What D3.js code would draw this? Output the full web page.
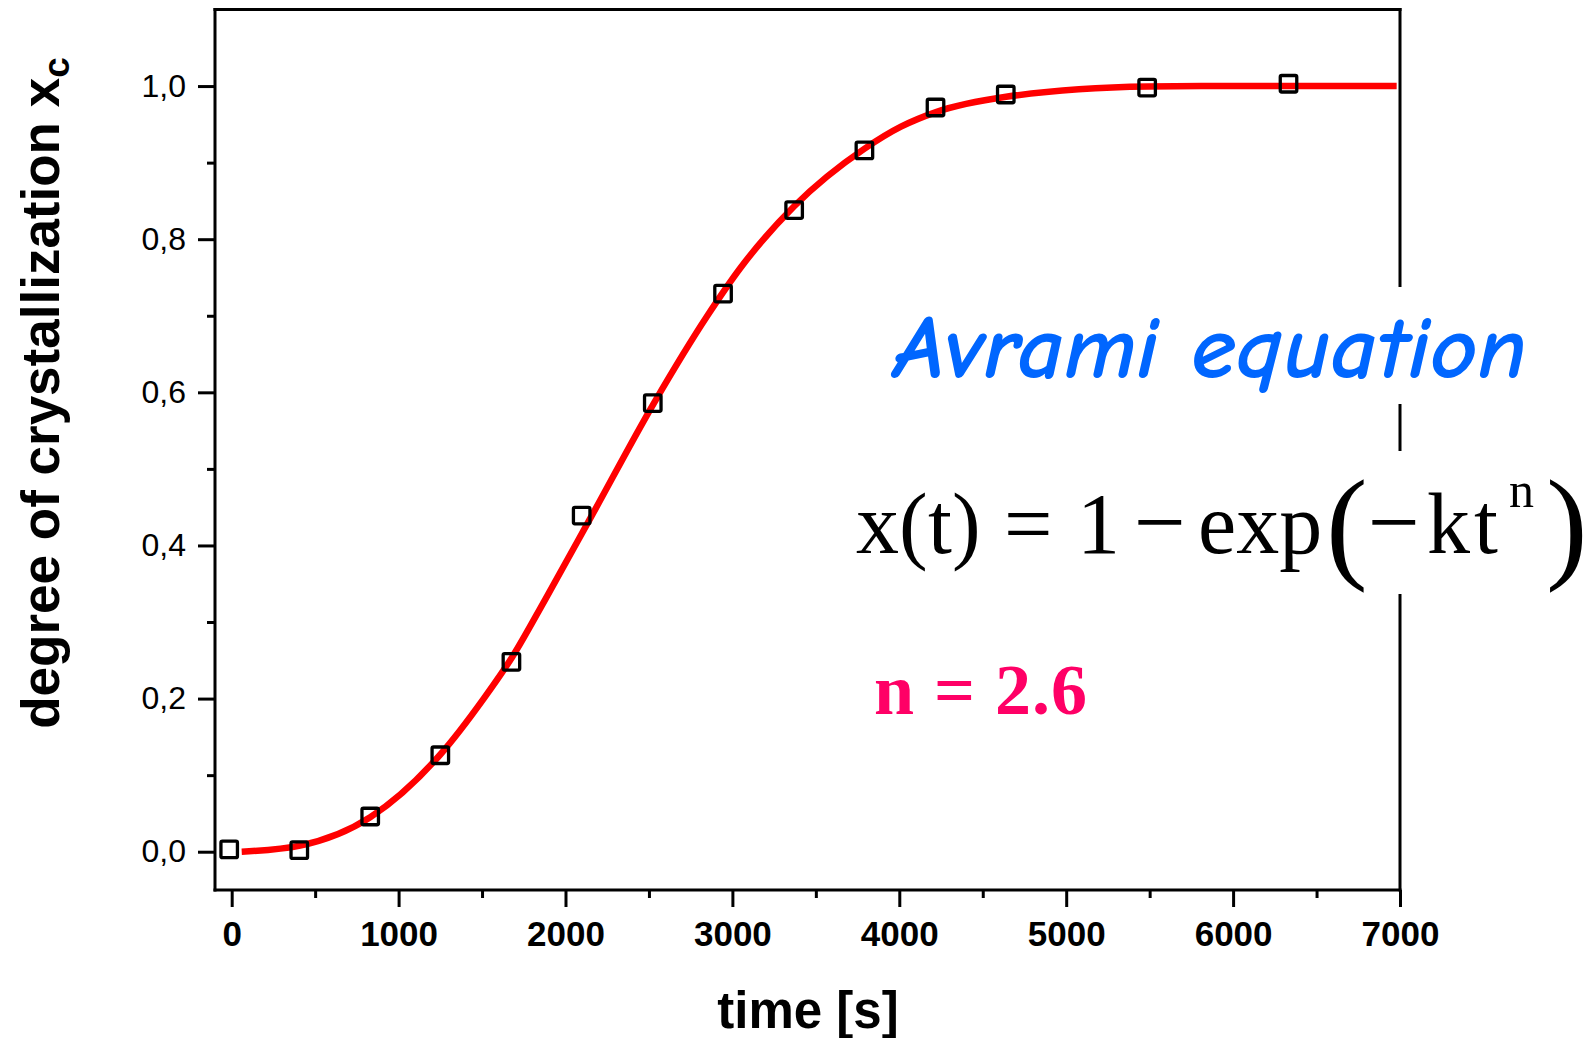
<!DOCTYPE html>
<html>
<head>
<meta charset="utf-8">
<script src="https://cdn.jsdelivr.net/npm/d3@7"></script>
<style>
  html, body { margin: 0; padding: 0; background: #fff; }
  svg { display: block; }
</style>
</head>
<body>
<svg id="chart" width="1593" height="1038"></svg>
<script>
// Measured crystallization data (time in s, degree of crystallization)
const measTime = [-15, 405, 830, 1250, 1676, 2097, 2523, 2944, 3370, 3791, 4217, 4638, 5485, 6332];
const measXc   = [0.003, 0.002, 0.046, 0.126, 0.248, 0.439, 0.586, 0.729, 0.838, 0.916, 0.972, 0.989, 0.998, 1.003];

// Avrami fit curve, sampled along its length
const fitTime = [60, 410, 830, 1250, 1510, 1680, 1880, 2150, 2530, 2850, 3050, 3370, 3790, 4010, 4220, 4640, 5490, 5810, 6980];
const fitXc   = [0.000, 0.008, 0.045, 0.127, 0.200, 0.254, 0.330, 0.436, 0.586, 0.700, 0.763, 0.843, 0.918, 0.947, 0.966, 0.986, 0.9995, 1.000, 1.000];

// Axis ticks
const xMajorTicks = [0, 1000, 2000, 3000, 4000, 5000, 6000, 7000];
const xTickLabels = ["0", "1000", "2000", "3000", "4000", "5000", "6000", "7000"];
const xMinorTicks = [500, 1500, 2500, 3500, 4500, 5500, 6500];
const yMajorTicks = [0, 0.2, 0.4, 0.6, 0.8, 1.0];
const yTickLabels = ["0,0", "0,2", "0,4", "0,6", "0,8", "1,0"];
const yMinorTicks = [0.1, 0.3, 0.5, 0.7, 0.9];

const svg = d3.select("#chart");
const plot = { left: 215, right: 1400, top: 9.5, bottom: 890 };

const x = d3.scaleLinear().domain([-100, 7000]).range([plot.left, plot.right]);
const y = d3.scaleLinear().domain([-0.05, 1.1]).range([plot.bottom, plot.top]);

const axisStroke = 3;

// bottom axis: major + minor ticks
const xAxisMajor = d3.axisBottom(x).tickValues(xMajorTicks)
  .tickFormat((d, i) => xTickLabels[i]).tickSize(17).tickSizeOuter(0).tickPadding(14);
const xAxisMinor = d3.axisBottom(x).tickValues(xMinorTicks)
  .tickFormat("").tickSize(8).tickSizeOuter(0);

const gx = svg.append("g").attr("transform", `translate(0,${plot.bottom})`).call(xAxisMajor);
svg.append("g").attr("transform", `translate(0,${plot.bottom})`).call(xAxisMinor)
  .select(".domain").remove();
gx.select(".domain").remove();
gx.selectAll("text")
  .attr("font-family", "'Liberation Sans', Arial, sans-serif")
  .attr("font-weight", "bold").attr("font-size", 35).attr("fill", "#000");

// left axis
const yAxisMajor = d3.axisLeft(y).tickValues(yMajorTicks)
  .tickFormat((d, i) => yTickLabels[i]).tickSize(17).tickSizeOuter(0).tickPadding(12);
const yAxisMinor = d3.axisLeft(y).tickValues(yMinorTicks)
  .tickFormat("").tickSize(8).tickSizeOuter(0);
const gy = svg.append("g").attr("transform", `translate(${plot.left},0)`).call(yAxisMajor);
svg.append("g").attr("transform", `translate(${plot.left},0)`).call(yAxisMinor)
  .select(".domain").remove();
gy.select(".domain").remove();
gy.selectAll("text")
  .attr("font-family", "'Liberation Sans', Arial, sans-serif")
  .attr("font-size", 32).attr("fill", "#000");

svg.selectAll(".tick line").attr("stroke", "#000").attr("stroke-width", axisStroke);

// frame
const frame = svg.append("g").attr("stroke", "#000").attr("stroke-width", axisStroke)
  .attr("stroke-linecap", "square").attr("fill", "none");
frame.append("line").attr("x1", plot.left).attr("x2", plot.right).attr("y1", plot.bottom).attr("y2", plot.bottom);
frame.append("line").attr("x1", plot.left).attr("x2", plot.right).attr("y1", plot.top).attr("y2", plot.top);
frame.append("line").attr("x1", plot.left).attr("x2", plot.left).attr("y1", plot.top).attr("y2", plot.bottom);
frame.append("line").attr("x1", plot.right).attr("x2", plot.right).attr("y1", plot.top).attr("y2", plot.bottom);

// fit curve
const fitData = fitTime.map((t, i) => ({ t, v: fitXc[i] }));
svg.append("path").datum(fitData)
  .attr("fill", "none").attr("stroke", "#ff0000").attr("stroke-width", 6.5)
  .attr("d", d3.line().x(d => x(d.t)).y(d => y(d.v)).curve(d3.curveMonotoneX));

// measured points as open squares
const meas = measTime.map((t, i) => ({ t, v: measXc[i] }));
const sq = 16.5;
svg.append("g").selectAll("rect").data(meas).join("rect")
  .attr("x", d => x(d.t) - sq / 2).attr("y", d => y(d.v) - sq / 2)
  .attr("width", sq).attr("height", sq).attr("rx", 1.5)
  .attr("fill", "none").attr("stroke", "#000").attr("stroke-width", 3.3);

// axis titles
svg.append("text")
  .attr("x", 808).attr("y", 1028).attr("text-anchor", "middle")
  .attr("font-family", "'Liberation Sans', Arial, sans-serif")
  .attr("font-weight", "bold").attr("font-size", 51)
  .text("time [s]");

const yTitle = svg.append("text")
  .attr("transform", "translate(59,393) rotate(-90)")
  .attr("text-anchor", "middle")
  .attr("font-family", "'Liberation Sans', Arial, sans-serif")
  .attr("font-weight", "bold").attr("font-size", 53);
yTitle.append("tspan").text("degree of crystallization x");
yTitle.append("tspan").attr("font-size", 37).attr("dy", 10).text("c");

// annotation: title and Avrami equation, each on a white box
svg.append("rect").attr("x", 880).attr("y", 287).attr("width", 660).attr("height", 117).attr("fill", "#fff");
svg.append("rect").attr("x", 845).attr("y", 451).attr("width", 748).attr("height", 143).attr("fill", "#fff");

svg.append("text")
  .attr("x", 894).attr("y", 377)
  .attr("font-family", "'Comic Sans MS', 'Comic Neue', Lato, sans-serif")
  .attr("font-style", "italic").attr("font-weight", "bold")
  .attr("font-size", 88).attr("fill", "#0066ff")
  .attr("textLength", 633).attr("lengthAdjust", "spacingAndGlyphs")
  .text("Avrami equation");

// x(t) = 1 − exp(−kt^n), set as one text run
const base = 553;
const pieces = [
  { s: "x", x: 856, y: base, size: 86 },
  { s: "(", x: 899, y: base, size: 86 },
  { s: "t", x: 928, y: base, size: 86 },
  { s: ")", x: 952, y: base, size: 86 },
  { s: "=", x: 1004, y: base, size: 86 },
  { s: "1", x: 1077, y: base, size: 86 },
  { s: "\u2212", x: 1134, y: base, size: 92 },
  { s: "exp", x: 1198, y: base, size: 86 },
  { s: "(", x: 1326, y: 566, size: 125 },
  { s: "\u2212", x: 1368, y: base, size: 92 },
  { s: "k", x: 1427, y: base, size: 86 },
  { s: "t", x: 1474, y: base, size: 86 },
  { s: "n", x: 1509, y: 507, size: 50 },
  { s: ")", x: 1546, y: 566, size: 125 }
];
const eq = svg.append("text")
  .attr("font-family", "'Liberation Serif', 'Times New Roman', serif")
  .attr("fill", "#000");
eq.selectAll("tspan").data(pieces).join("tspan")
  .attr("x", d => d.x).attr("y", d => d.y).attr("font-size", d => d.size)
  .text(d => d.s);

svg.append("text")
  .attr("x", 874).attr("y", 714)
  .attr("font-family", "'Liberation Serif', 'Times New Roman', serif")
  .attr("font-weight", "bold").attr("font-size", 72).attr("fill", "#ff0066")
  .attr("textLength", 213).attr("lengthAdjust", "spacing")
  .text("n = 2.6");
</script>
</body>
</html>
